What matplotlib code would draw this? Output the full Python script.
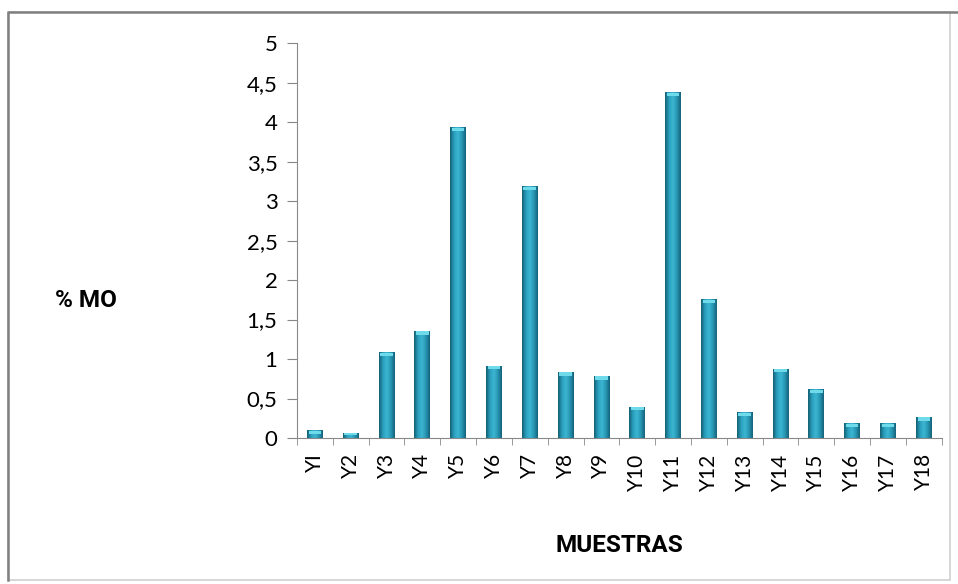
import numpy as np
import matplotlib.pyplot as plt
from matplotlib.colors import LinearSegmentedColormap
from matplotlib.patches import Rectangle

plt.rcParams['font.family'] = ['Lato', 'DejaVu Sans']

# % materia orgánica por muestra
muestras = ['YI', 'Y2', 'Y3', 'Y4', 'Y5', 'Y6', 'Y7', 'Y8', 'Y9', 'Y10',
            'Y11', 'Y12', 'Y13', 'Y14', 'Y15', 'Y16', 'Y17', 'Y18']
mo = [0.09, 0.06, 1.08, 1.35, 3.93, 0.91, 3.18, 0.83, 0.78, 0.39,
      4.37, 1.75, 0.32, 0.87, 0.61, 0.18, 0.18, 0.26]
yticks = [0, 0.5, 1, 1.5, 2, 2.5, 3, 3.5, 4, 4.5, 5]

fig = plt.figure(figsize=(9.58, 5.84), dpi=100)
ax = fig.add_axes([0.310, 0.25, 0.673, 0.676])

# cylinder-like shading across each bar
shade = LinearSegmentedColormap.from_list(
    'shade', ['#145f73', '#2a9fbd', '#3cb6d2', '#2796b3', '#15627a'])
grad = np.linspace(0, 1, 64).reshape(1, -1)

x = np.arange(len(muestras))
w = 0.44
for xi, v in zip(x, mo):
    ax.imshow(grad, extent=[xi - w / 2, xi + w / 2, 0, v], aspect='auto',
              cmap=shade, origin='lower', zorder=2)
    cap = min(0.04, v * 0.4)
    ax.add_patch(Rectangle((xi - w * 0.4, v - cap), w * 0.8, cap,
                           facecolor='#6fdbea', edgecolor='none', zorder=3))

ax.set_xlim(-0.5, len(muestras) - 0.5)
ax.set_ylim(0, 5)

ax.set_yticks(yticks)
ax.set_yticklabels([f'{t:g}'.replace('.', ',') for t in yticks], fontsize=16)
ax.set_xticks(x)
ax.set_xticklabels(muestras, rotation=90, fontsize=15)
ax.set_xticks(np.arange(len(muestras) + 1) - 0.5, minor=True)
ax.tick_params(axis='x', which='major', length=0, pad=11)
ax.tick_params(axis='x', which='minor', length=5, color='#888888')
ax.tick_params(axis='y', length=7, color='#888888', pad=7)

for s in ['top', 'right']:
    ax.spines[s].set_visible(False)
for s in ['left', 'bottom']:
    ax.spines[s].set_color('#888888')

label_font = dict(family=['Roboto', 'DejaVu Sans'], fontsize=17.5,
                  fontweight='bold')
fig.text(55 / 958, 1 - 300 / 584, '% MO', ha='left', va='center', **label_font)
fig.text(619 / 958, 1 - 545 / 584, 'MUESTRAS', ha='center', va='center',
         **label_font)

# outer frame: dark on top/left, faint on right/bottom
fig.patches.append(Rectangle((8 / 958, 4 / 584), 942 / 958, 568 / 584,
                             transform=fig.transFigure, fill=False,
                             edgecolor='#d0d0d0', linewidth=1.2))
fig.lines.append(plt.Line2D([8 / 958, 8 / 958, 958 / 958],
                            [4 / 584, 572 / 584, 572 / 584],
                            transform=fig.transFigure, color='#808080',
                            linewidth=1.8))

fig.savefig('out.png', dpi=100)
